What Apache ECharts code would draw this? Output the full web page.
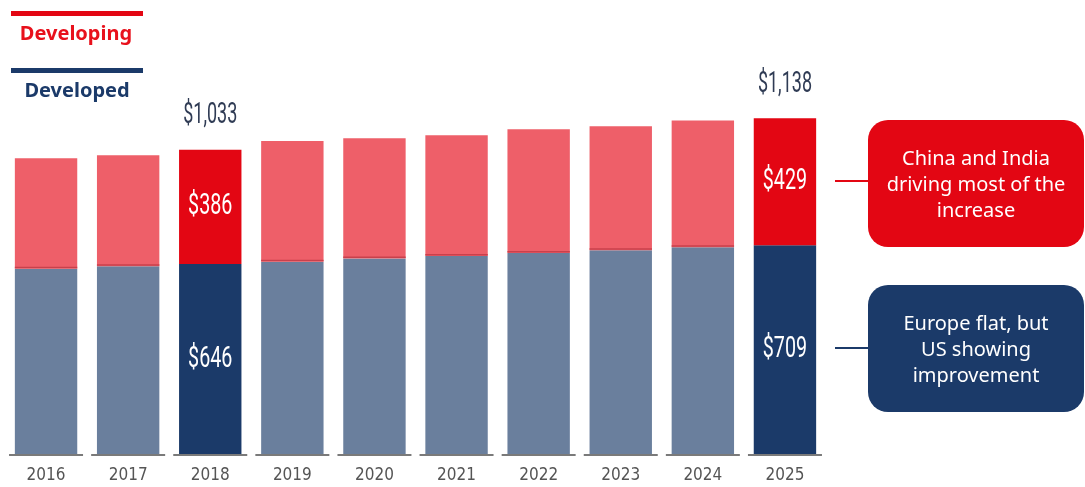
<!DOCTYPE html>
<html>
<head>
<meta charset="utf-8">
<script src="https://cdn.jsdelivr.net/npm/echarts@6/dist/echarts.min.js"></script>
<style>
html,body{margin:0;padding:0;background:#fff;}
#c{width:1085px;height:487px;}
</style>
</head>
<body>
<div id="c"></div>
<script>
const years = ['2016','2017','2018','2019','2020','2021','2022','2023','2024','2025'];
const developed = [630, 638, 646, 653, 664, 673, 683, 692, 702, 709];
const developing = [373, 375, 386, 408, 407, 408, 418, 419, 429, 429];
const highlightYears = ['2018', '2025'];
const highlightTotals = [1033, 1138];
const legendNames = ['Developing', 'Developed'];
const noteDeveloping = 'China and India\ndriving most of the\nincrease';
const noteDeveloped = 'Europe flat, but\nUS showing\nimprovement';

const RED = '#e30613', RED_L = '#ee5f69', NAVY = '#1b3a69', NAVY_L = '#6a7f9d';
const chart = echarts.init(document.getElementById('c'));

function isHi(i){ return highlightYears.indexOf(years[i]) >= 0; }
function fmt(v){ return '$' + v.toLocaleString('en-US'); }

const devData = developed.map((v,i)=>({value:v, itemStyle:{color: isHi(i)?NAVY:NAVY_L}}));
const dvgData = developing.map((v,i)=>({value:v, itemStyle:{color: isHi(i)?RED:RED_L}}));

const condensed = 'Roboto, "Liberation Sans", sans-serif';

chart.setOption({
  animation:false,
  grid:{left:5, right:259, top:100, bottom:32},
  xAxis:{type:'category', data:years,
    axisLine:{show:false}, axisTick:{show:false}, splitLine:{show:false},
    axisLabel:{color:'#555555', fontSize:17, margin:12, fontFamily:'"Liberation Sans Narrow", "DejaVu Sans Condensed", Roboto, sans-serif'}},
  yAxis:{type:'value', min:0, max:1200, show:false, splitLine:{show:false}},
  series:[
    {name:legendNames[1], type:'bar', stack:'t', data:devData, barCategoryGap:'24%'},
    {name:legendNames[0], type:'bar', stack:'t', data:dvgData, barCategoryGap:'24%'},
    {type:'custom', name:'labels', z:10, clip:false,
      data:years.map((y,i)=>[i, developed[i], developing[i]]),
      renderItem:function(params, api){
        const i = api.value(0);
        const d = api.value(1), g = api.value(2);
        const p0 = api.coord([i,0]), p1 = api.coord([i,d]), p2 = api.coord([i,d+g]);
        const band = api.size([1,0])[0];
        const base = {type:'rect', shape:{x:p0[0]-37, y:p0[1]-1, width:74, height:2}, style:{fill:'#7a7a7a'}};
        if(!isHi(i)){
          const bw = band*0.76;
          return {type:'group', children:[base,
            {type:'rect', shape:{x:p0[0]-bw/2, y:p1[1]-2, width:bw, height:1.5}, style:{fill:'#c9404c'}}]};
        }
        const k = highlightYears.indexOf(years[i]);
        function t(txt, x, y, size, fill, sx){
          return {type:'text', x:x, y:y, scaleX:sx, style:{x:0, y:0, text:txt, fontSize:size,
            fontFamily:condensed, fill:fill, align:'center', verticalAlign:'middle'}};
        }
        return {type:'group', children:[base,
          t(fmt(d), p0[0], (p0[1]+p1[1])/2, 29, '#ffffff', 0.68),
          t(fmt(g), p0[0], (p1[1]+p2[1])/2, 29, '#ffffff', 0.68),
          t(fmt(highlightTotals[k]), p0[0], p2[1]-34, 30, '#2f3b54', 0.6)
        ]};
      }}
  ],
  graphic:[
    {type:'rect', shape:{x:11, y:11, width:132, height:5}, style:{fill:RED}},
    {type:'text', x:76, y:34, style:{text:legendNames[0], fill:'#e8111c', fontSize:20, fontWeight:'bold',
      fontFamily:'"Noto Sans", sans-serif', align:'center', verticalAlign:'middle'}},
    {type:'rect', shape:{x:11, y:68, width:132, height:5}, style:{fill:NAVY}},
    {type:'text', x:77, y:91, style:{text:legendNames[1], fill:NAVY, fontSize:20, fontWeight:'bold',
      fontFamily:'"Noto Sans", sans-serif', align:'center', verticalAlign:'middle'}},
    {type:'rect', shape:{x:835, y:180, width:34, height:2}, style:{fill:RED}},
    {type:'rect', shape:{x:868, y:120, width:216, height:127, r:20}, style:{fill:RED}},
    {type:'text', x:976, y:185, style:{text:noteDeveloping, fill:'#fff', fontSize:20, lineHeight:26,
      fontFamily:'"Noto Sans", sans-serif', align:'center', verticalAlign:'middle'}},
    {type:'rect', shape:{x:835, y:347, width:34, height:2}, style:{fill:NAVY}},
    {type:'rect', shape:{x:868, y:285, width:216, height:127, r:20}, style:{fill:NAVY}},
    {type:'text', x:976, y:350, style:{text:noteDeveloped, fill:'#fff', fontSize:20, lineHeight:26,
      fontFamily:'"Noto Sans", sans-serif', align:'center', verticalAlign:'middle'}}
  ]
});
</script>
</body>
</html>
